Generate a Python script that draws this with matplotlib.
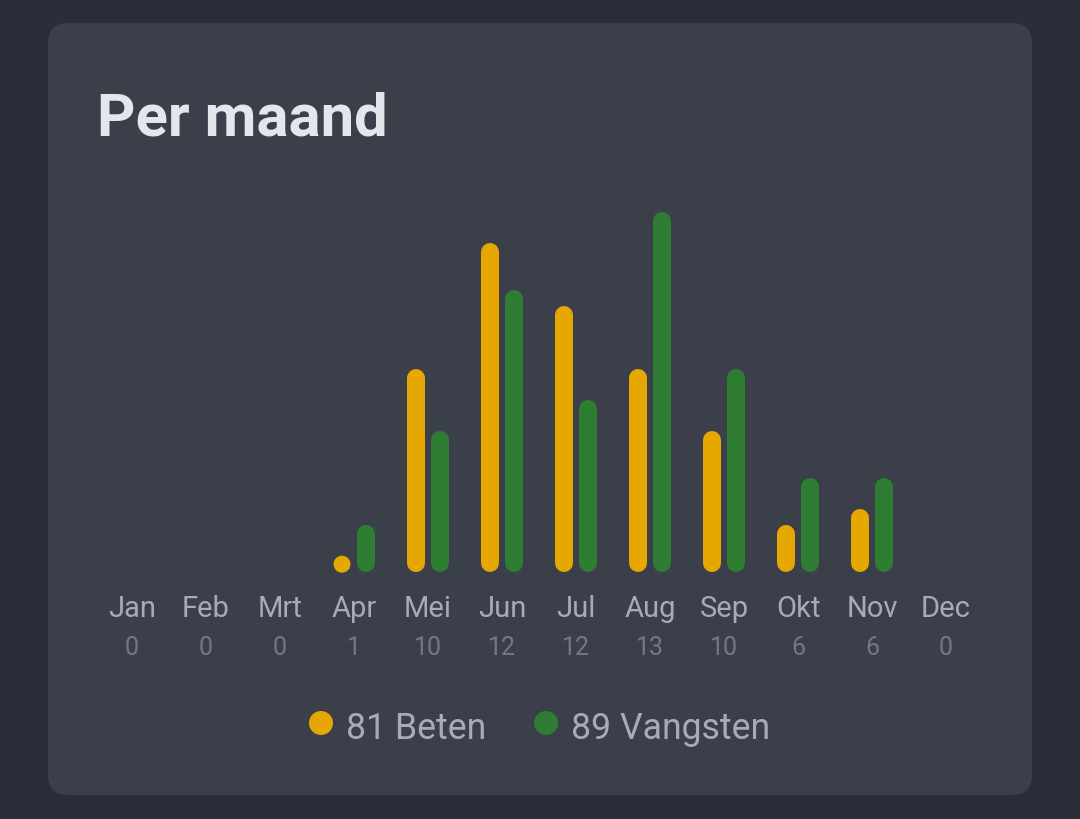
import matplotlib.pyplot as plt
from matplotlib.patches import FancyBboxPatch
from matplotlib.transforms import blended_transform_factory

plt.rcParams['font.family'] = ['Roboto', 'DejaVu Sans']

# chart data
months = ['Jan', 'Feb', 'Mrt', 'Apr', 'Mei', 'Jun', 'Jul', 'Aug', 'Sep', 'Okt', 'Nov', 'Dec']
trips = [0, 0, 0, 1, 10, 12, 12, 13, 10, 6, 6, 0]
beten = [0, 0, 0, 1, 13, 21, 17, 13, 9, 3, 4, 0]
vangsten = [0, 0, 0, 3, 9, 18, 11, 23, 13, 6, 6, 0]

page_bg = '#2a2e39'
card_bg = '#3a3f4a'
yellow = '#e6a800'
green = '#2e7d32'

W, H = 1080, 820
fig = plt.figure(figsize=(W / 100, H / 100), dpi=100)
fig.patch.set_facecolor(page_bg)

# background layer in pixel coordinates
bg = fig.add_axes([0, 0, 1, 1])
bg.set_xlim(0, W)
bg.set_ylim(H, 0)
bg.axis('off')
card = FancyBboxPatch((48, 24), 984, 772, boxstyle='round,pad=0,rounding_size=20',
                      facecolor=card_bg, edgecolor='none')
bg.add_patch(card)
bg.text(97, 136, 'Per maand', fontsize=43, fontweight='bold', color='#e4e6ec',
        ha='left', va='baseline')

# bar area: baseline at y=573px, 74px per month, 15.65px per unit
ymax = 24
px_per_unit = 15.65
ax = fig.add_axes([95 / W, (H - 573) / H, 888 / W, ymax * px_per_unit / H])
ax.set_xlim(-0.5, 11.5)
ax.set_ylim(0, ymax)
ax.axis('off')

lw = 18 * 72 / 100
r = 9 / px_per_unit
off = 12 / 74
for i in range(len(months)):
    for v, dx, col in [(beten[i], -off, yellow), (vangsten[i], off, green)]:
        if v <= 0:
            continue
        if v - 2 * r < 0.05:
            # too short for a bar, just a round dot
            ax.scatter([i + dx], [v / 2], s=(17 * 0.72) ** 2, color=col,
                       edgecolors='none', clip_on=False)
            continue
        ax.plot([i + dx, i + dx], [r, v - r], color=col, linewidth=lw,
                solid_capstyle='round', clip_on=False)

# month labels and counts
tr = blended_transform_factory(ax.transData, bg.transData)
for i, m in enumerate(months):
    bg.text(i, 617, m, transform=tr, fontsize=21, color='#a6abb5',
            ha='center', va='baseline')
    bg.text(i, 655, str(trips[i]), transform=tr, fontsize=18, color='#727884',
            ha='center', va='baseline')

# legend
bg.scatter([321], [724], s=(24 * 0.72) ** 2, color=yellow, edgecolors='none')
bg.text(346, 739, f'{sum(beten)} Beten', fontsize=25.7, color='#a6abb5',
        ha='left', va='baseline')
bg.scatter([546], [724], s=(24 * 0.72) ** 2, color=green, edgecolors='none')
bg.text(571, 739, f'{sum(vangsten)} Vangsten', fontsize=25.7, color='#a6abb5',
        ha='left', va='baseline')

fig.savefig('out.png', dpi=100, facecolor=page_bg)
